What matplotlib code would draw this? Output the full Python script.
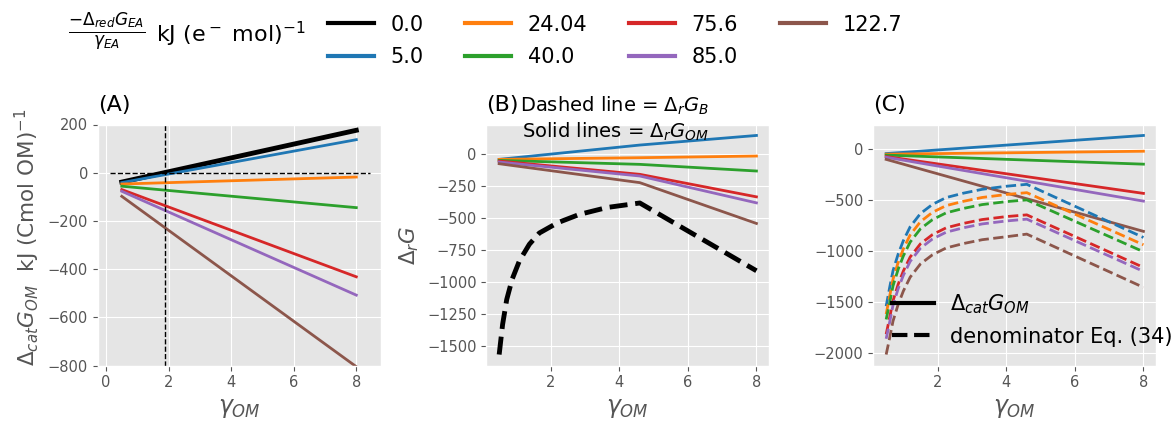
import matplotlib
matplotlib.use('Agg')
import matplotlib.pyplot as plt
from matplotlib.lines import Line2D

plt.style.use('ggplot')

# legend values (-Delta_red G_EA / gamma_EA) and their colours
ea_labels = ['0.0', '5.0', '24.04', '40.0', '75.6', '85.0', '122.7']
ea_colors = ['black', 'tab:blue', 'tab:orange', 'tab:green', 'tab:red', 'tab:purple', 'tab:brown']

# (A) / (C) solid lines: Delta_cat G_OM, straight lines between gamma_OM = 0.5 and 8
gamma_lin = [0.5, 8.0]
cat_black = [-39, 176]
cat_blue = [-41, 137]
cat_orange = [-47, -18]
cat_green = [-56, -145]
cat_red = [-70, -432]
cat_purple = [-77, -508]
cat_brown = [-98, -805]

# (A) guide lines
gamma_cross = 1.87
hline_x = [0.13, 8.43]

# (B) solid lines: Delta_r G_OM (kink at gamma_OM = 4.6)
gamma_b = [0.5, 4.6, 8.0]
rg_blue = [-44, 68, 143]
rg_orange = [-44, -31, -18]
rg_green = [-52, -83, -135]
rg_red = [-57, -161, -337]
rg_purple = [-65, -174, -384]
rg_brown = [-78, -226, -545]

# (B) dashed line: Delta_r G_B
gamma_db = [0.5, 0.6, 0.72, 0.88, 1.09, 1.38, 1.67, 2.2, 2.83, 3.65, 4.6, 8.0]
rg_b = [-1570, -1335, -1140, -980, -838, -708, -620, -540, -475, -420, -385, -915]

# (C) dashed lines: denominator Eq. (34)
gamma_c = [0.5, 0.6, 0.7, 0.85, 1.0, 1.2, 1.5, 1.85, 2.25, 2.75, 3.3, 4.0, 4.6, 8.0]
den_blue = [-1540, -1360, -1191, -1028, -897, -760, -630, -540, -473, -430, -392, -362, -343, -865]
den_orange = [-1618, -1445, -1275, -1110, -978, -840, -710, -618, -552, -510, -472, -443, -425, -937]
den_green = [-1670, -1510, -1340, -1178, -1047, -910, -780, -690, -623, -580, -542, -513, -496, -1005]
den_red = [-1815, -1655, -1487, -1325, -1195, -1057, -927, -837, -770, -727, -689, -660, -643, -1159]
den_purple = [-1860, -1700, -1530, -1368, -1238, -1100, -970, -880, -813, -770, -732, -703, -685, -1198]
den_brown = [-2015, -1855, -1686, -1523, -1392, -1255, -1125, -1035, -968, -925, -887, -858, -832, -1355]

cat_lines = [cat_black, cat_blue, cat_orange, cat_green, cat_red, cat_purple, cat_brown]
rg_lines = [rg_blue, rg_orange, rg_green, rg_red, rg_purple, rg_brown]
den_lines = [den_blue, den_orange, den_green, den_red, den_purple, den_brown]

fig = plt.figure(figsize=(11.75, 4.21), dpi=100)
W, H = 1175.0, 421.0
ax_w, ax_h, ax_b = 283 / W, 241 / H, 1 - 365.5 / H
axA = fig.add_axes([97.7 / W, ax_b, ax_w, ax_h])
axB = fig.add_axes([486.3 / W, ax_b, ax_w, ax_h])
axC = fig.add_axes([873.3 / W, ax_b, ax_w, ax_h])

# ---- (A)
for ys, c in zip(cat_lines, ea_colors):
    axA.plot(gamma_lin, ys, color=c, lw=3.5 if c == 'black' else 2)
axA.axvline(gamma_cross, color='black', ls='--', lw=1)
axA.plot(hline_x, [0, 0], color='black', ls='--', lw=1)
axA.set_ylim(-800, 200)
axA.set_xlim(-0.27, 8.78)
axA.set_xticks([0, 2, 4, 6, 8])
axA.set_yticks([200, 0, -200, -400, -600, -800])
axA.set_ylabel(r'$\Delta_{cat}G_{OM}$  kJ (Cmol OM)$^{-1}$', fontsize=15.5, y=0.53)

# ---- (B)
for ys, c in zip(rg_lines, ea_colors[1:]):
    axB.plot(gamma_b, ys, color=c, lw=2)
axB.plot(gamma_db, rg_b, color='black', ls='--', lw=3.5)
axB.set_xticks([2, 4, 6, 8])
axB.set_yticks([0, -250, -500, -750, -1000, -1250, -1500])
axB.set_ylabel(r'$\Delta_rG$', fontsize=15.5)
axB.text(0.455, 0.925, 'Dashed line = $\\Delta_rG_B$\nSolid lines = $\\Delta_rG_{OM}$',
         transform=axB.transAxes, ha='center', va='bottom', multialignment='center', fontsize=14)

# ---- (C)
for ys, c in zip(cat_lines[1:], ea_colors[1:]):
    axC.plot(gamma_lin, ys, color=c, lw=2)
for ys, c in zip(den_lines, ea_colors[1:]):
    axC.plot(gamma_c, ys, color=c, ls='--', lw=2)
axC.set_xticks([2, 4, 6, 8])
axC.set_yticks([0, -500, -1000, -1500, -2000])
c_handles = [Line2D([], [], color='black', lw=3), Line2D([], [], color='black', lw=3, ls='--')]
axC.legend(c_handles, [r'$\Delta_{cat}G_{OM}$', 'denominator Eq. (34)'], loc='lower left',
           frameon=False, fontsize=15)

for ax, t in zip((axA, axB, axC), ('(A)', '(B)', '(C)')):
    ax.set_title(t, loc='left', fontsize=16, pad=10)
    ax.set_xlabel(r'$\gamma_{OM}$', fontsize=17)
    ax.tick_params(labelsize=10.5)

# top legend
handles = [Line2D([], [], color=c, lw=3) for c in ea_colors]
fig.legend(handles, ea_labels, ncol=4, loc='upper left', bbox_to_anchor=(0.2632, 1.0098),
           frameon=False, fontsize=15, handlelength=2.2, labelspacing=0.6)
fig.text(68.3 / W, 1 - 32.3 / H, r'$\frac{-\Delta_{red}G_{EA}}{\gamma_{EA}}$',
         fontsize=17.5, va='center', ha='left')
fig.text(156 / W, 1 - 42.3 / H, r'kJ (e$^-$ mol)$^{-1}$', fontsize=16, va='baseline', ha='left')

fig.savefig('out.png', dpi=100)
